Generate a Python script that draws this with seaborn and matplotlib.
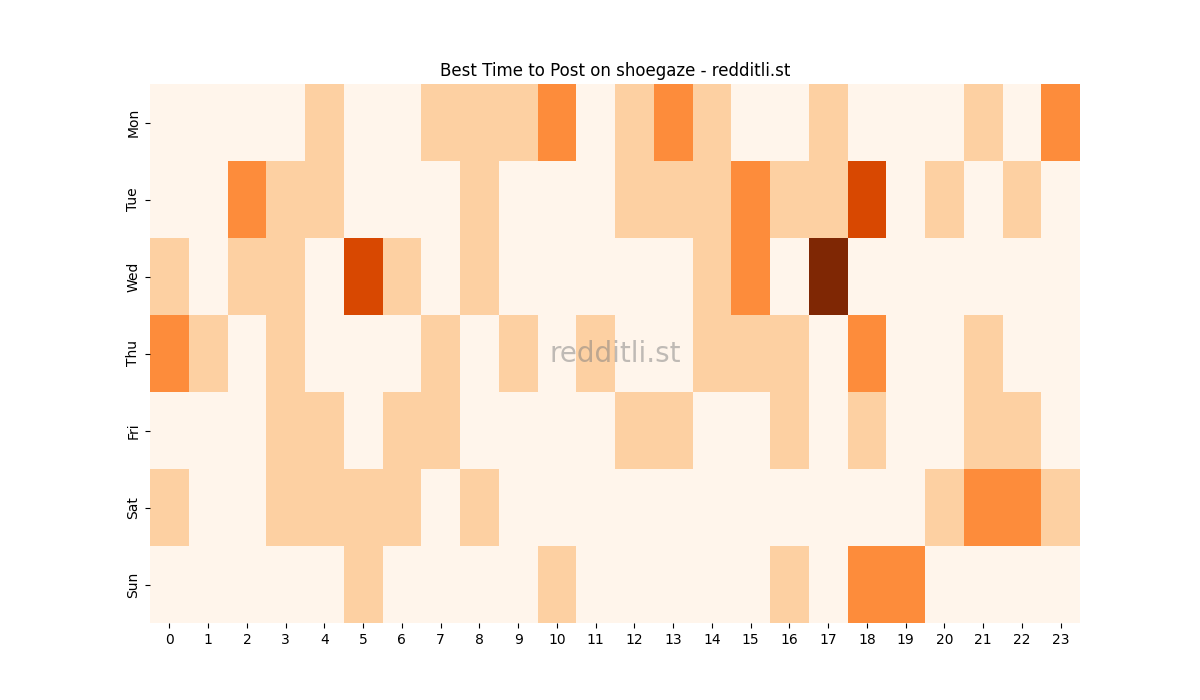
import numpy as np
import pandas as pd
import matplotlib
matplotlib.use("Agg")
import matplotlib.pyplot as plt
import seaborn as sns

days = ["Mon", "Tue", "Wed", "Thu", "Fri", "Sat", "Sun"]
hours = list(range(24))

mon = [0, 0, 0, 0, 1, 0, 0, 1, 1, 1, 2, 0, 1, 2, 1, 0, 0, 1, 0, 0, 0, 1, 0, 2]
tue = [0, 0, 2, 1, 1, 0, 0, 0, 1, 0, 0, 0, 1, 1, 1, 2, 1, 1, 3, 0, 1, 0, 1, 0]
wed = [1, 0, 1, 1, 0, 3, 1, 0, 1, 0, 0, 0, 0, 0, 1, 2, 0, 4, 0, 0, 0, 0, 0, 0]
thu = [2, 1, 0, 1, 0, 0, 0, 1, 0, 1, 0, 1, 0, 0, 1, 1, 1, 0, 2, 0, 0, 1, 0, 0]
fri = [0, 0, 0, 1, 1, 0, 1, 1, 0, 0, 0, 0, 1, 1, 0, 0, 1, 0, 1, 0, 0, 1, 1, 0]
sat = [1, 0, 0, 1, 1, 1, 1, 0, 1, 0, 0, 0, 0, 0, 0, 0, 0, 0, 0, 0, 1, 2, 2, 1]
sun = [0, 0, 0, 0, 0, 1, 0, 0, 0, 0, 1, 0, 0, 0, 0, 0, 1, 0, 2, 2, 0, 0, 0, 0]

df = pd.DataFrame([mon, tue, wed, thu, fri, sat, sun], index=days, columns=hours)

fig, ax = plt.subplots(figsize=(12, 7), dpi=100)
sns.heatmap(df, cmap="Oranges", cbar=False, ax=ax)
ax.set_title("Best Time to Post on shoegaze - redditli.st")
ax.set_xlabel("")
ax.set_ylabel("")
ax.set_yticklabels(days, rotation=90, va="center")
ax.set_xticklabels(hours, rotation=0)
ax.text(0.5, 0.5, "redditli.st", transform=ax.transAxes, fontsize=20,
        color="gray", alpha=0.5, ha="center", va="center")

plt.savefig("out.png")
